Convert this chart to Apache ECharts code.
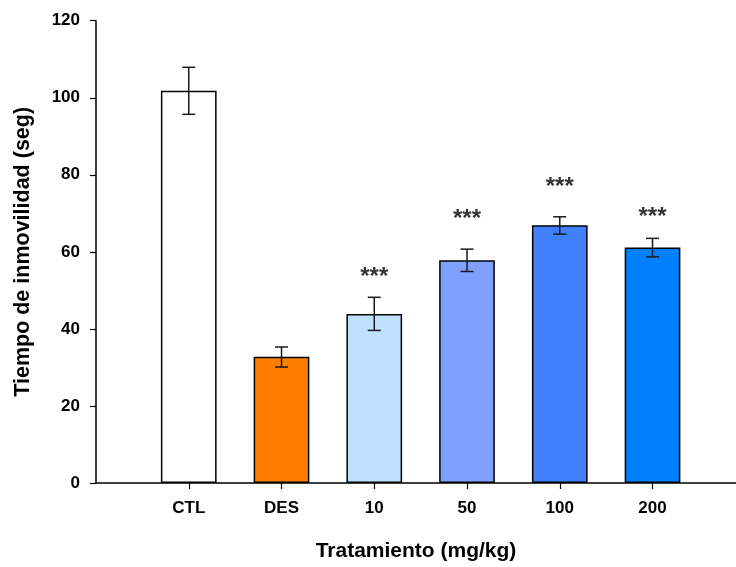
<!DOCTYPE html>
<html>
<head>
<meta charset="utf-8">
<script src="https://cdn.jsdelivr.net/npm/echarts@6/dist/echarts.min.js"></script>
<style>
html,body{margin:0;padding:0;background:#fff;}
#chart{width:736px;height:567px;}
</style>
</head>
<body>
<div id="chart"></div>
<script>
// ---- data ----
const categories = ['CTL', 'DES', '10', '50', '100', '200'];
const means = [101.8, 32.8, 43.9, 57.8, 66.9, 61.1];
const errLow = [95.7, 30.1, 39.6, 54.9, 64.6, 58.7];
const errHigh = [107.9, 35.3, 48.2, 60.7, 69.1, 63.5];
const barColors = ['#FFFFFF', '#FF8000', '#C0E0FF', '#80A0FF', '#4080FF', '#0080FF'];
const starLabels = ['', '', '***', '***', '***', '***'];
const starHeights = [null, null, 53.5, 68.5, 76.8, 68.9];
const yTicks = [0, 20, 40, 60, 80, 100, 120];

const positions = categories.map((c, i) => i + 1);

const font = '"Liberation Sans", Arial, sans-serif';

const chart = echarts.init(document.getElementById('chart'));
chart.setOption({
  animation: false,
  backgroundColor: '#fff',
  grid: { left: 96, right: 0, top: 20.7, bottom: 78.5, containLabel: false },
  xAxis: {
    type: 'value',
    min: 0,
    max: 6.9,
    interval: 1,
    splitLine: { show: false },
    axisLine: { show: true, lineStyle: { color: '#000', width: 1.5 } },
    axisTick: { show: true, length: 6, lineStyle: { color: '#000', width: 1.2 }, customValues: positions },
    axisLabel: {
      customValues: positions,
      margin: 17,
      fontFamily: font, fontWeight: 'bold', fontSize: 17, color: '#000',
      formatter: v => categories[Math.round(v) - 1] || ''
    },
    name: 'Tratamiento (mg/kg)',
    nameLocation: 'middle',
    nameGap: 58,
    nameTextStyle: { fontFamily: font, fontWeight: 'bold', fontSize: 21, color: '#000' }
  },
  yAxis: {
    type: 'value',
    min: 0,
    max: 120,
    interval: 20,
    splitLine: { show: false },
    axisLine: { show: true, lineStyle: { color: '#000', width: 1.5 } },
    axisTick: { show: true, inside: false, length: 6, lineStyle: { color: '#000', width: 1.2 } },
    axisLabel: {
      margin: 16,
      fontFamily: font, fontWeight: 'bold', fontSize: 17, color: '#000',
      customValues: yTicks
    },
    name: 'Tiempo de inmovilidad (seg)',
    nameLocation: 'middle',
    nameGap: 62,
    nameTextStyle: { fontFamily: font, fontWeight: 'bold', fontSize: 21.5, color: '#000' }
  },
  series: [
    {
      type: 'bar',
      barWidth: 55.7,
      data: means.map((m, i) => ({
        value: [positions[i], m],
        itemStyle: { color: barColors[i], borderColor: '#000', borderWidth: 1.5 }
      })),
      z: 2
    },
    {
      type: 'custom',
      z: 3,
      data: means.map((m, i) => [positions[i], errLow[i], errHigh[i]]),
      renderItem: function (params, api) {
        const x = api.value(0);
        const lo = api.coord([x, api.value(1)]);
        const hi = api.coord([x, api.value(2)]);
        const hw = 6.5;
        const style = { stroke: '#1a1a1a', lineWidth: 1.5 };
        return {
          type: 'group',
          children: [
            { type: 'line', shape: { x1: lo[0], y1: lo[1], x2: hi[0], y2: hi[1] }, style: style },
            { type: 'line', shape: { x1: lo[0] - hw, y1: lo[1], x2: lo[0] + hw, y2: lo[1] }, style: style },
            { type: 'line', shape: { x1: hi[0] - hw, y1: hi[1], x2: hi[0] + hw, y2: hi[1] }, style: style }
          ]
        };
      }
    },
    {
      type: 'scatter',
      symbolSize: 0,
      z: 4,
      data: starHeights.map((h, i) => h == null ? null : {
        value: [positions[i], h],
        label: {
          show: true, position: 'inside', formatter: starLabels[i],
          fontFamily: font, fontWeight: 'bold', fontSize: 24, color: '#000'
        }
      }).filter(d => d)
    }
  ]
});
</script>
</body>
</html>
